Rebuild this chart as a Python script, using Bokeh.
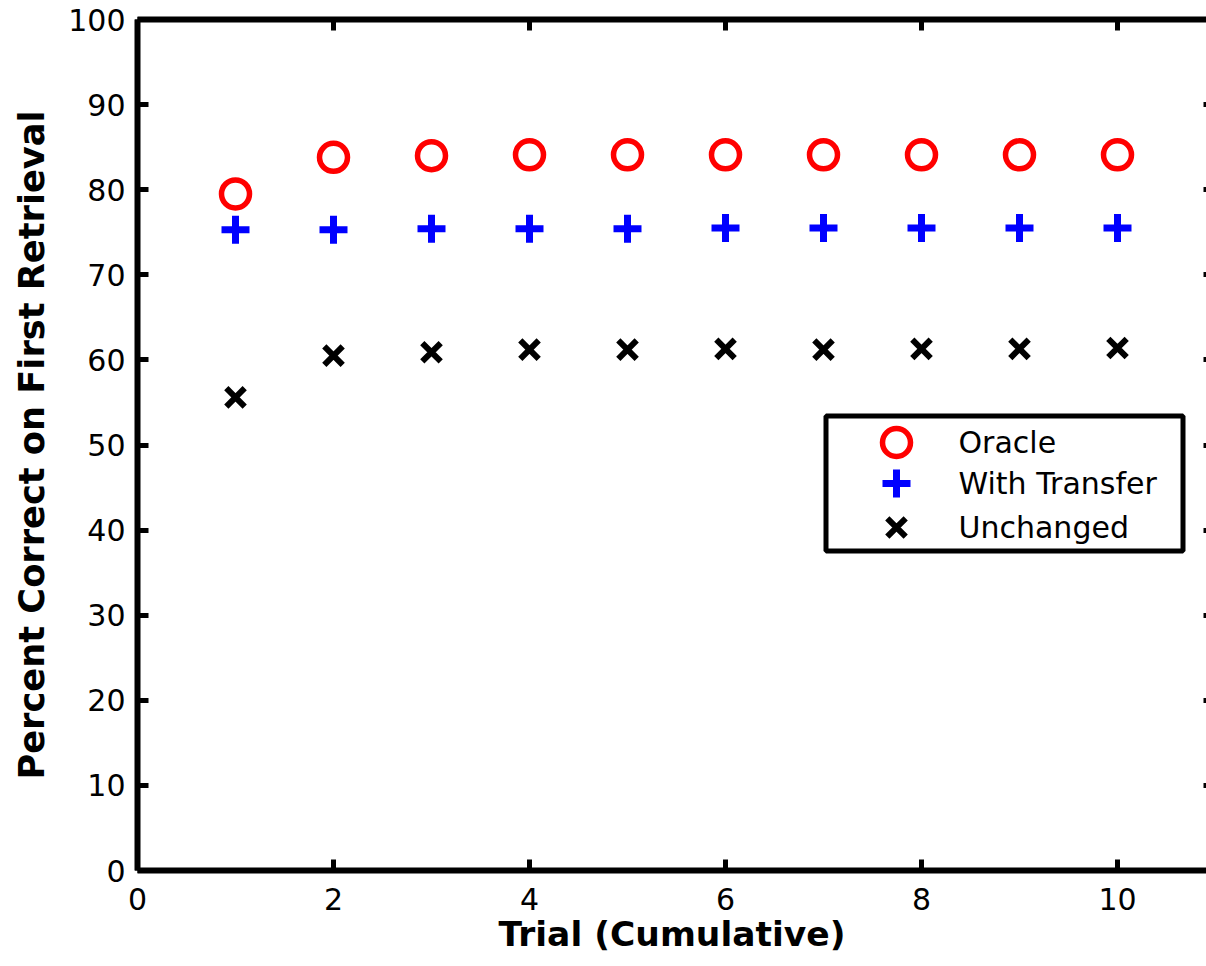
from bokeh.plotting import figure
from bokeh.models import LinearAxis, FixedTicker, Range1d
from bokeh.core.properties import value
from bokeh.embed import file_html
from bokeh.resources import INLINE

trials = [1, 2, 3, 4, 5, 6, 7, 8, 9, 10]
oracle = [79.5, 83.8, 84.0, 84.1, 84.1, 84.1, 84.1, 84.1, 84.1, 84.1]
with_transfer = [75.3, 75.3, 75.4, 75.4, 75.4, 75.5, 75.5, 75.5, 75.5, 75.5]
unchanged = [55.6, 60.5, 60.9, 61.2, 61.2, 61.3, 61.2, 61.3, 61.3, 61.4]
series_names = ["Oracle", "With Transfer", "Unchanged"]
x_ticks = [0, 2, 4, 6, 8, 10]
y_ticks = [0, 10, 20, 30, 40, 50, 60, 70, 80, 90, 100]

FONT = "DejaVu Sans"
FW, FH = 1069, 851

p = figure(frame_width=FW, frame_height=FH,
           x_range=Range1d(0, FW / 98.0), y_range=Range1d(0, 100),
           output_backend="svg", toolbar_location=None,
           min_border_left=137, min_border_top=19, min_border_right=0, min_border_bottom=0,
           x_axis_label="Trial (Cumulative)",
           y_axis_label="Percent Correct on First Retrieval")
p.outline_line_color = None
p.xgrid.visible = False
p.ygrid.visible = False
p.background_fill_color = "white"
# pixel-space ranges for the legend box
p.extra_x_ranges = {"px": Range1d(0, FW)}
p.extra_y_ranges = {"py": Range1d(0, FH)}

for ax, ticks in ((p.xaxis[0], x_ticks), (p.yaxis[0], y_ticks)):
    ax.ticker = FixedTicker(ticks=ticks)
    ax.major_tick_in = 11
    ax.major_tick_out = 0
    ax.minor_tick_line_color = None
    ax.major_tick_line_width = 5
    ax.axis_line_width = 6
    ax.major_label_text_font = FONT
    ax.major_label_text_font_size = "30px"
    ax.major_label_text_color = "black"
    ax.axis_label_text_font = FONT
    ax.axis_label_text_font_style = "bold"
    ax.axis_label_text_color = "black"
p.xaxis[0].axis_label_text_font_size = "34.5px"
p.yaxis[0].axis_label_text_font_size = "35.2px"
p.xaxis[0].major_label_standoff = 17
p.xaxis[0].axis_label_standoff = 1
p.yaxis[0].major_label_standoff = 12
p.yaxis[0].axis_label_standoff = 13

top = LinearAxis(ticker=FixedTicker(ticks=x_ticks), major_tick_in=11, major_tick_out=0,
                 major_tick_line_width=5, axis_line_width=6,
                 minor_tick_line_color=None, major_label_text_font_size="0px",
                 major_label_text_color=None, major_label_standoff=0)
p.add_layout(top, "above")
right = LinearAxis(ticker=FixedTicker(ticks=y_ticks), major_tick_in=3, major_tick_out=0,
                   major_tick_line_width=5, axis_line_color=None,
                   minor_tick_line_color=None, major_label_text_font_size="0px",
                   major_label_text_color=None, major_label_standoff=0)
p.add_layout(right, "right")

styles = [dict(marker="circle", size=28, fill_color=None, line_color="#ff0000", line_width=5.5),
          dict(marker="cross", size=28, line_color="#0000ff", line_width=7),
          dict(marker="x", size=26, line_color="black", line_width=6)]

for ys, st in zip((oracle, with_transfer, unchanged), styles):
    p.scatter(trials, ys, **st)

# legend (drawn in frame pixel space)
p.quad(left=[688.5], right=[1045.5], bottom=[319.5], top=[454.5],
       fill_color="white", line_color="black", line_width=5,
       x_range_name="px", y_range_name="py")
row_y = [428, 387, 343]
for name, yy, st in zip(series_names, row_y, styles):
    p.scatter([759], [yy], x_range_name="px", y_range_name="py", **st)
p.text(x=[821] * 3, y=row_y, text=series_names, text_font=value(FONT),
       text_font_size="30px", text_color="black", text_baseline="middle",
       text_align="left", x_range_name="px", y_range_name="py")

open("out.html", "w").write(file_html(p, INLINE))
